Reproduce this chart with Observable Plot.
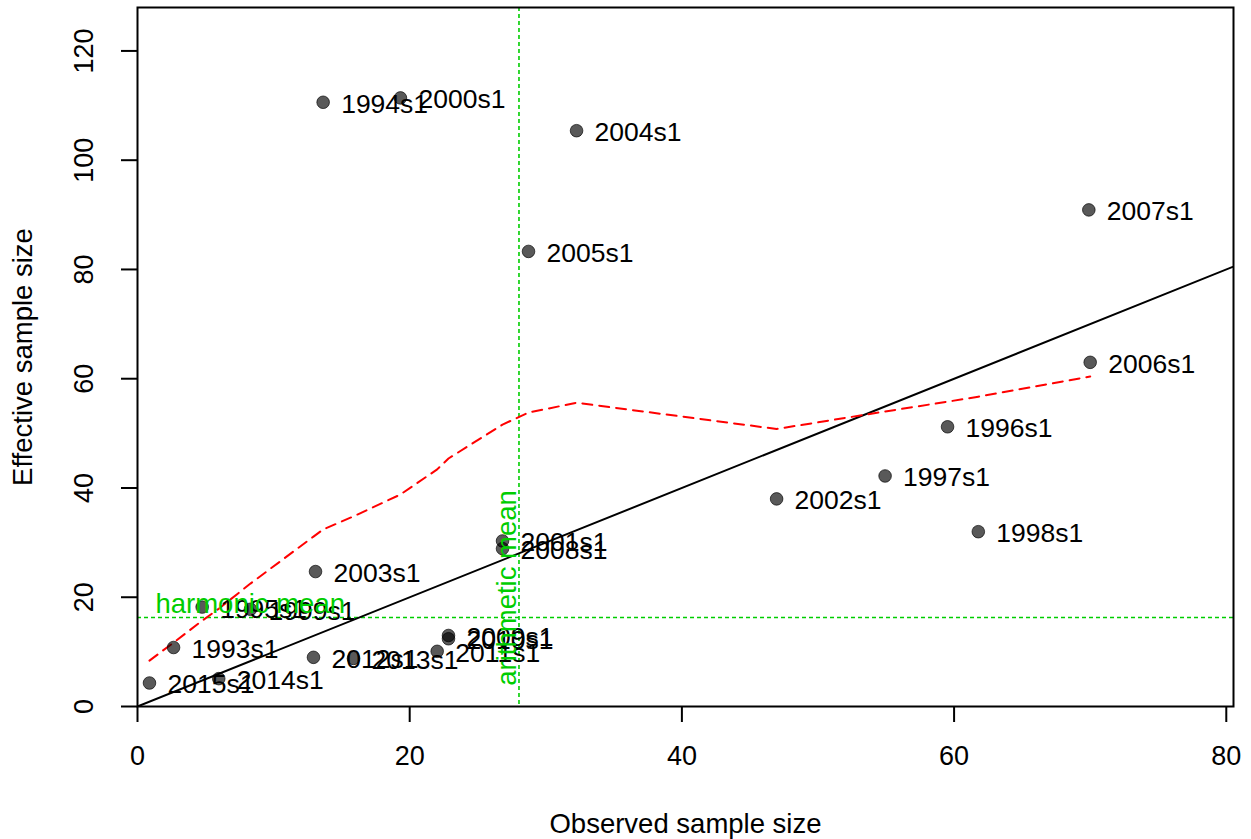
<!DOCTYPE html>
<html>
<head>
<meta charset="utf-8">
<script src="https://cdn.jsdelivr.net/npm/d3@7"></script>
<script src="https://cdn.jsdelivr.net/npm/@observablehq/plot@0.6"></script>
<style>
  html, body { margin: 0; padding: 0; background: #fff; }
  #chart { width: 1251px; height: 839px; }
</style>
</head>
<body>
<div id="chart"></div>
<script>
// ---- data ----
const labels = ["1993s1","1994s1","1995s1","1996s1","1997s1","1998s1","1999s1","2000s1","2001s1","2002s1","2003s1","2004s1","2005s1","2006s1","2007s1","2008s1","2009s1","2010s1","2011s1","2012s1","2013s1","2014s1","2015s1"];
const observed  = [2.65, 13.64, 4.75, 59.52, 54.93, 61.78, 8.30, 19.32, 26.82, 46.96, 13.08, 32.26, 28.73, 70.0, 69.9, 26.82, 22.85, 22.85, 22.02, 12.93, 15.87, 5.97, 0.88];
const effective = [10.8, 110.6, 18.2, 51.2, 42.2, 32.0, 17.8, 111.4, 30.3, 38.0, 24.7, 105.4, 83.3, 63.0, 90.9, 28.9, 13.0, 12.4, 10.1, 9.0, 8.8, 5.1, 4.3];

// smoother (red dashed) fitted values at the observed sizes
const smoothX = [0.88, 2.65, 4.75, 5.97, 8.30, 12.93, 13.64, 15.87, 19.32, 22.02, 22.85, 26.82, 28.73, 32.26, 46.96, 54.93, 59.52, 61.78, 70.0];
const smoothY = [8.4, 11.7, 15.7, 17.9, 22.5, 31.1, 32.4, 34.8, 38.8, 43.4, 45.4, 51.6, 53.8, 55.6, 50.8, 54.0, 55.8, 56.7, 60.4];

// 1:1 reference line
const identity = [0, 81];

const arithmeticMean = 28.03;
const harmonicMean = 16.3;

const xTicks = [0, 20, 40, 60, 80];
const yTicks = [0, 20, 40, 60, 80, 100, 120];
const xDomain = [0, 80.53];
const yDomain = [0, 127.95];

const xTitle = "Observed sample size";
const yTitle = "Effective sample size";

// ---- build ----
const pts = labels.map((l, i) => ({label: l, x: observed[i], y: effective[i]}));
const smooth = smoothX.map((x, i) => ({x, y: smoothY[i]}));
const green = "#00CD00";
const font = "'Liberation Sans', Arial, sans-serif";

const chart = Plot.plot({
  width: 1251,
  height: 839,
  marginLeft: 137,
  marginRight: 18,
  marginTop: 7,
  marginBottom: 133,
  style: {fontFamily: font, fontSize: "27px", background: "white", color: "black"},
  x: {domain: xDomain, ticks: xTicks},
  y: {domain: yDomain, ticks: yTicks},
  marks: [
    Plot.axisX({ticks: xTicks, tickSize: 16, tickPadding: 23, fontSize: 27, label: null, strokeWidth: 2}),
    Plot.axisY({ticks: yTicks, tickSize: 16, tickRotate: -90, tickPadding: 29, fontSize: 27, label: null, strokeWidth: 2}),
    // reference lines
    Plot.ruleX([arithmeticMean], {stroke: green, strokeWidth: 1.6, strokeDasharray: "4,3"}),
    Plot.ruleY([harmonicMean], {stroke: green, strokeWidth: 1.6, strokeDasharray: "4,3"}),
    Plot.line(identity, {x: d => d, y: d => d, stroke: "black", strokeWidth: 2, clip: true}),
    Plot.line(smooth, {x: "x", y: "y", stroke: "red", strokeWidth: 2, strokeDasharray: "10,7"}),
    // points & labels
    Plot.dot(pts, {x: "x", y: "y", r: 6.3, fill: "black", fillOpacity: 0.65, stroke: "black", strokeOpacity: 0.65, strokeWidth: 1}),
    Plot.text(pts, {x: "x", y: "y", text: "label", textAnchor: "start", dx: 18, dy: 2, fontSize: 26.5, fill: "black"}),
    // mean labels
    Plot.text([harmonicMean], {x: () => 1.32, y: d => d, text: () => "harmonic mean", textAnchor: "start", lineAnchor: "bottom", dy: -4, fill: green, fontSize: 27.5}),
    Plot.text([arithmeticMean], {x: d => d, y: () => 3.8, text: () => "arithmetic mean", rotate: -90, textAnchor: "start", lineAnchor: "bottom", dx: -3, fill: green, fontSize: 27.5}),
    // axis titles
    Plot.text([xTitle], {frameAnchor: "bottom", text: d => d, textAnchor: "middle", lineAnchor: "top", dy: 107, fontSize: 27.5}),
    Plot.text([yTitle], {frameAnchor: "left", text: d => d, rotate: -90, textAnchor: "middle", lineAnchor: "top", dx: -125, fontSize: 27.5}),
    Plot.frame({stroke: "black", strokeWidth: 2})
  ]
});
document.getElementById("chart").appendChild(chart);
</script>
</body>
</html>
